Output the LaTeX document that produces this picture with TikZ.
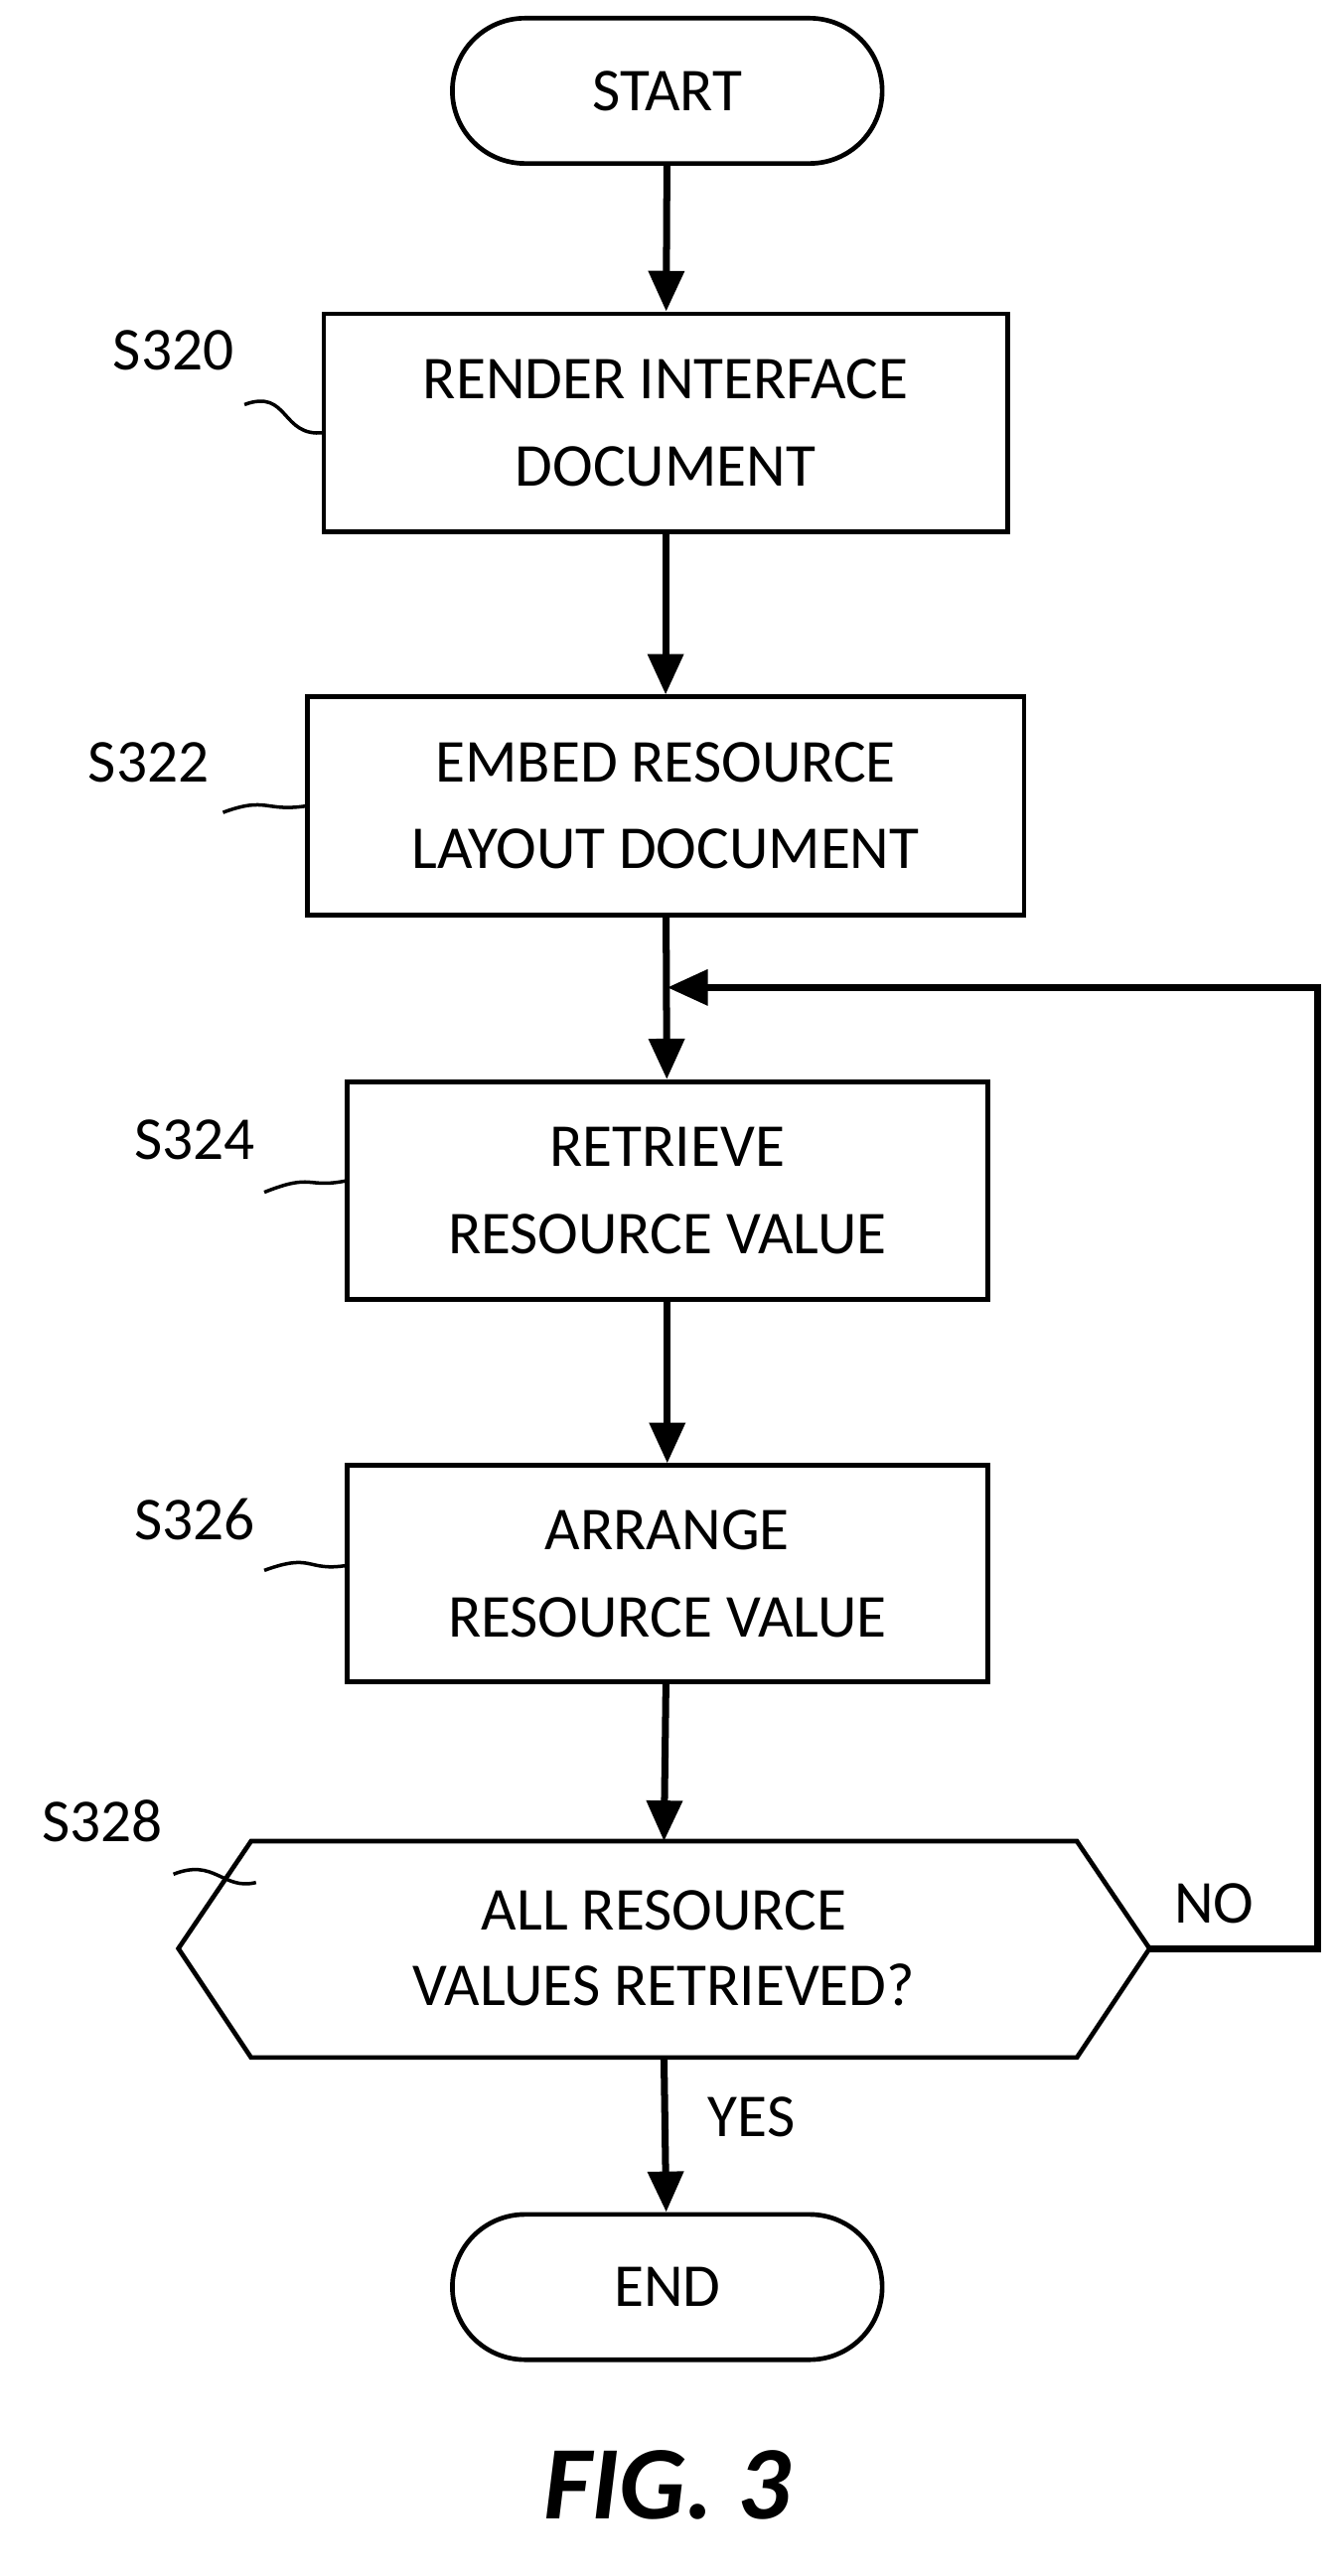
\documentclass[tikz,border=0pt]{standalone}
\usepackage{fontspec}
\setmainfont{Carlito}
\usetikzlibrary{arrows.meta,shapes.misc}
\tikzset{
  flow/.style={line width=2.4pt,-{Triangle[length=14pt,width=12pt]}},
  box/.style={draw,line width=1.6pt,minimum width=#1,minimum height=3.7cm,align=center,font=\fontsize{21}{30}\selectfont},
  term/.style={draw,line width=1.6pt,rounded rectangle,minimum width=5.44cm,minimum height=1.76cm,font=\fontsize{21}{26}\selectfont},
  lbl/.style={font=\fontsize{21}{26}\selectfont},
  lead/.style={line width=1.2pt}
}
\begin{document}
\begin{tikzpicture}[x=0.02cm,y=-0.02cm]
				\useasboundingbox (0,0) rectangle (808,1560);
				
				\node[term] (start) at (404,55) {START};
				\node[box=8.28cm,minimum height=2.64cm] (s320) at (403,256) {RENDER INTERFACE\\DOCUMENT};
				\node[box=8.68cm,minimum height=2.64cm] (s322) at (403,488) {EMBED RESOURCE\\LAYOUT DOCUMENT};
				\node[box=7.76cm,minimum height=2.64cm] (s324) at (404,721) {RETRIEVE\\RESOURCE VALUE};
				\node[box=7.76cm,minimum height=2.62cm] (s326) at (404,953) {ARRANGE\\RESOURCE VALUE};
				\node[lbl,align=center] (s328) at (402,1180) {ALL RESOURCE\\VALUES RETRIEVED?};
				\draw[line width=1.6pt] (108,1180) -- (152,1115) -- (652,1115) -- (696,1180)
					-- (652,1246) -- (152,1246) -- cycle;
				\coordinate (decT) at (402,1115);
				\coordinate (decB) at (402,1246);
				\coordinate (decR) at (696,1180);
				\node[term] (end) at (404,1385) {END};
				
				\coordinate (join) at (404,598);
				\draw[flow] (start) -- (s320);
				\draw[flow] (s320) -- (s322);
				\draw[flow] (s322) -- (s324);
				\draw[flow] (s324) -- (s326);
				\draw[flow] (s326) -- (decT);
				\draw[flow] (decB) -- (end);
				\draw[flow] (decR) -- (798,1180) -- (798,598) -- (join);
				
				\node[lbl] (no) at (735,1153) {NO};
				\node[lbl] (yes) at (455,1282) {YES};
				
				\node[lbl] (l320) at (105,212) {S320};
				\node[lbl] (l322) at (90,462) {S322};
				\node[lbl] (l324) at (118,690) {S324};
				\node[lbl] (l326) at (118,920) {S326};
				\node[lbl] (l328) at (62,1103) {S328};
				\draw[lead] (148,245) .. controls (175,235) and (170,265) .. (196,262);
				\draw[lead] (135,492) .. controls (162,482) and (160,492) .. (186,488);
				\draw[lead] (160,722) .. controls (190,710) and (185,720) .. (210,715);
				\draw[lead] (160,951) .. controls (190,940) and (185,952) .. (210,948);
				\draw[lead] (105,1135) .. controls (130,1125) and (135,1145) .. (155,1140);
				
				\node[font=\fontsize{36}{40}\selectfont\bfseries\itshape] (fig) at (404,1505) {FIG. 3};
\end{tikzpicture}
\end{document}
